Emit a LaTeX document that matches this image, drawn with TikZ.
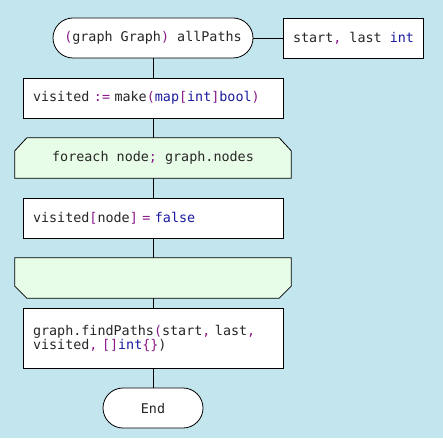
\documentclass[tikz,border=0pt]{standalone}
\usepackage{fontspec}
\newfontfamily\codefont{DejaVu Sans Mono}
\usetikzlibrary{calc}
\definecolor{bgc}{HTML}{C2E5EE}
\definecolor{loopc}{HTML}{E8FDE8}
\definecolor{pcol}{HTML}{8B1A8B}
\definecolor{kcol}{HTML}{1A1AA0}
\newcommand{\pp}[1]{\textcolor{pcol}{#1}}
\newcommand{\kk}[1]{\textcolor{kcol}{#1}}
\begin{document}
\begin{tikzpicture}[x=1pt,y=-1pt,
  every node/.style={font=\codefont\fontsize{13.4}{12.7}\selectfont, text=black!85},
  term/.style={draw, fill=white, rounded corners=20pt, minimum width=200pt, minimum height=40pt, inner sep=0pt, line width=0.8pt},
  actbox/.style={draw, fill=white, minimum width=260pt, inner xsep=10pt, inner ysep=0pt, text width=240pt, align=left, line width=0.8pt},
  loopnode/.style={minimum width=276pt, minimum height=40pt, inner sep=0pt},
  loopline/.style={draw, fill=loopc, line width=0.8pt},
  conn/.style={draw, line width=0.8pt}]
\fill[bgc] (0,0) rectangle (443,438);
\useasboundingbox (0,0) rectangle (443,438);
% nodes
\node[term] (start) at (153,38) {\pp{(}graph Graph\pp{)} allPaths};
\node[draw, fill=white, minimum width=140pt, minimum height=40pt, inner xsep=10pt, inner ysep=0pt, line width=0.8pt] (params) at (353,38) {\makebox[120pt][l]{start\pp{,} last \kk{int}}};
\node[actbox, minimum height=40pt] (b1) at (153,98) {visited \pp{:=} make\pp{(}\kk{map}\pp{[}\kk{int}\pp{]}\kk{bool}\pp{)}};
\node[loopnode] (ls) at (153,158) {};
\draw[loopline] ($(ls.south west)$) -- ($(ls.north west)+(0,13)$) -- ($(ls.north west)+(12,0)$) -- ($(ls.north east)+(-12,0)$) -- ($(ls.north east)+(0,13)$) -- (ls.south east) -- cycle;
\node at (ls.center) {foreach node\pp{;} graph.nodes};
\node[actbox, minimum height=40pt] (b2) at (153,218) {visited\pp{[}node\pp{]} \pp{=} \kk{false}};
\node[loopnode] (le) at (153,278) {};
\draw[loopline] (le.north west) -- ($(le.south west)+(0,-12)$) -- ($(le.south west)+(12,0)$) -- ($(le.south east)+(-12,0)$) -- ($(le.south east)+(0,-12)$) -- (le.north east) -- cycle;
\node[actbox, minimum height=60pt] (b3) at (153,338) {graph.findPaths\pp{(}start\pp{,} last\pp{,}\\visited\pp{,} \pp{[]}\kk{int}\pp{\{\}})};
\node[term, minimum width=100pt] (end) at (153,408) {End};
% connectors
\draw[conn] (start.east) -- (params.west);
\draw[conn] (start.south) -- (b1.north);
\draw[conn] (b1.south) -- (ls.north);
\draw[conn] (ls.south) -- (b2.north);
\draw[conn] (b2.south) -- (le.north);
\draw[conn] (le.south) -- (b3.north);
\draw[conn] (b3.south) -- (end.north);
\end{tikzpicture}
\end{document}
